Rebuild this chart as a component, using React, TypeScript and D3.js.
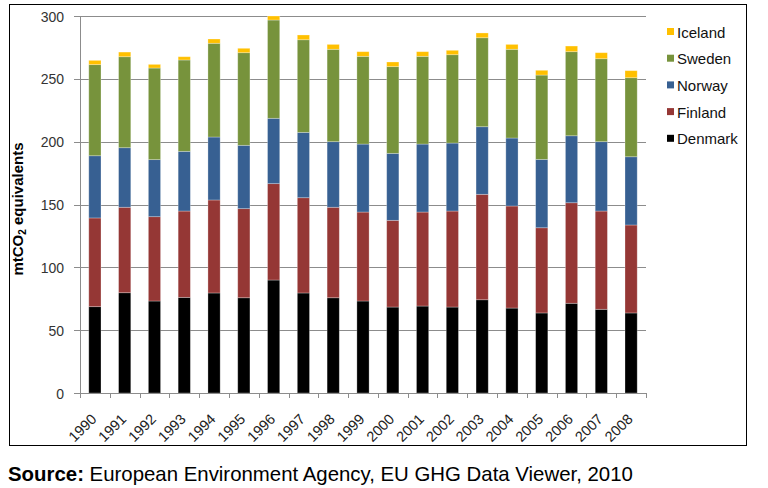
// React
import * as d3 from 'd3';

// Chart data
const years = ['1990', '1991', '1992', '1993', '1994', '1995', '1996', '1997', '1998', '1999',
    '2000', '2001', '2002', '2003', '2004', '2005', '2006', '2007', '2008'];

const denmark = [68.7, 79.8, 73.2, 76.1, 79.6, 75.8, 89.9, 79.6, 75.8, 73.2, 68.4, 69.2, 68.4, 74.2, 67.6, 63.7, 71.4, 66.6, 63.7];
const finland = [70.6, 68.0, 67.1, 68.7, 74.0, 70.9, 76.7, 75.8, 72.0, 70.8, 69.0, 74.8, 76.4, 83.9, 81.2, 67.8, 80.0, 78.2, 70.0];
const norway = [49.5, 47.4, 45.4, 47.5, 50.1, 50.4, 52.0, 52.0, 52.2, 54.1, 53.3, 54.1, 54.1, 53.8, 54.1, 54.4, 53.3, 55.2, 54.3];
const sweden = [72.5, 72.4, 72.9, 72.7, 74.6, 73.7, 78.2, 73.7, 73.5, 69.8, 69.0, 69.8, 70.3, 70.8, 70.6, 67.1, 66.9, 66.0, 62.9];
const iceland = [3.4, 3.7, 2.9, 2.6, 3.4, 3.5, 3.2, 3.8, 3.9, 3.7, 3.7, 3.7, 3.5, 3.8, 3.9, 3.8, 4.5, 4.8, 5.6];

const seriesNames = ['Denmark', 'Finland', 'Norway', 'Sweden', 'Iceland'];
const seriesColors = ['#000000', '#953735', '#376092', '#77933C', '#FFC000'];
const yTicks = [0, 50, 100, 150, 200, 250, 300];

const FONT = 'Arial, "Liberation Sans", sans-serif';

export default function App() {
    const width = 768;
    const height = 488;

    const x = d3.scaleBand<string>().domain(years).range([80, 646]);
    const y = d3.scaleLinear().domain([0, 300]).range([393, 16]);
    const barW = x.bandwidth() * 0.41;

    // table for d3.stack
    const rows = years.map((yr, i) => ({
        year: yr,
        Denmark: denmark[i],
        Finland: finland[i],
        Norway: norway[i],
        Sweden: sweden[i],
        Iceland: iceland[i],
    }));
    const stacked = d3.stack<any>().keys(seriesNames)(rows);

    const [x0, x1] = x.range();
    const tickXs = years.map(yr => x(yr)!).concat([x1]);

    // legend, top to bottom is reverse of the stack order
    const legendItems = seriesNames.map((n, i) => ({ name: n, color: seriesColors[i] })).reverse();

    return (
        <svg width={width} height={height} style={{ position: 'absolute', left: 0, top: 0, background: '#fff' }}>
            {/* outer frame */}
            <rect x={9.5} y={4.5} width={737} height={441} fill="#fff" stroke="#000" strokeWidth={1} />

            {/* gridlines + y ticks */}
            {yTicks.map(t => (
                <g key={t}>
                    {t > 0 && <line x1={x0} x2={x1} y1={Math.round(y(t)) + 0.5} y2={Math.round(y(t)) + 0.5} stroke="#8c8c8c" />}
                    <line x1={x0 - 6} x2={x0} y1={Math.round(y(t)) + 0.5} y2={Math.round(y(t)) + 0.5} stroke="#8c8c8c" />
                    <text x={64} y={y(t)} dy="0.4em" textAnchor="end" fontFamily={FONT} fontSize={14} fill="#333">{t}</text>
                </g>
            ))}

            {/* bars */}
            {stacked.map((s, si) => (
                <g key={s.key} fill={seriesColors[si]}>
                    {s.map((d, i) => (
                        <rect key={i}
                            x={x(years[i])! + (x.bandwidth() - barW) / 2}
                            y={y(d[1])}
                            width={barW}
                            height={y(d[0]) - y(d[1])}
                            stroke="rgba(255,255,255,0.35)"
                            strokeWidth={0.8} />
                    ))}
                </g>
            ))}

            {/* axes */}
            <line x1={x0 + 0.5} x2={x0 + 0.5} y1={y(300)} y2={y(0)} stroke="#8c8c8c" />
            <line x1={x0} x2={x1} y1={Math.round(y(0)) + 0.5} y2={Math.round(y(0)) + 0.5} stroke="#8c8c8c" />
            {tickXs.map((tx, i) => (
                <line key={i} x1={Math.round(tx) + 0.5} x2={Math.round(tx) + 0.5} y1={y(0)} y2={y(0) + 5} stroke="#8c8c8c" />
            ))}

            {/* x labels */}
            {years.map(yr => {
                const cx = x(yr)! + x.bandwidth() / 2 + 2.5;
                const cy = y(0) + 27;
                return (
                    <text key={yr} x={cx} y={cy} textAnchor="end" transform={`rotate(-45, ${cx}, ${cy})`}
                        fontFamily={FONT} fontSize={14.5} fill="#222">{yr}</text>
                );
            })}

            {/* y axis title */}
            <text transform="translate(23, 209) rotate(-90)" textAnchor="middle" fontFamily={FONT}
                fontSize={15} fontWeight="bold" fill="#000">
                mtCO<tspan fontSize={10} dy={3}>2</tspan><tspan dy={-3}> equivalents</tspan>
            </text>

            {/* legend */}
            {legendItems.map((it, i) => {
                const by = 37.5 + i * 26.7;
                return (
                    <g key={it.name}>
                        <rect x={667} y={by - 9.5} width={7} height={7} fill={it.color} />
                        <text x={677} y={by} fontFamily={FONT} fontSize={15} fill="#111">{it.name}</text>
                    </g>
                );
            })}

            {/* source note */}
            <text x={8} y={481} fontFamily={FONT} fontSize={20.4} fill="#000">
                <tspan fontWeight="bold">Source:</tspan> European Environment Agency, EU GHG Data Viewer, 2010
            </text>
        </svg>
    );
}
